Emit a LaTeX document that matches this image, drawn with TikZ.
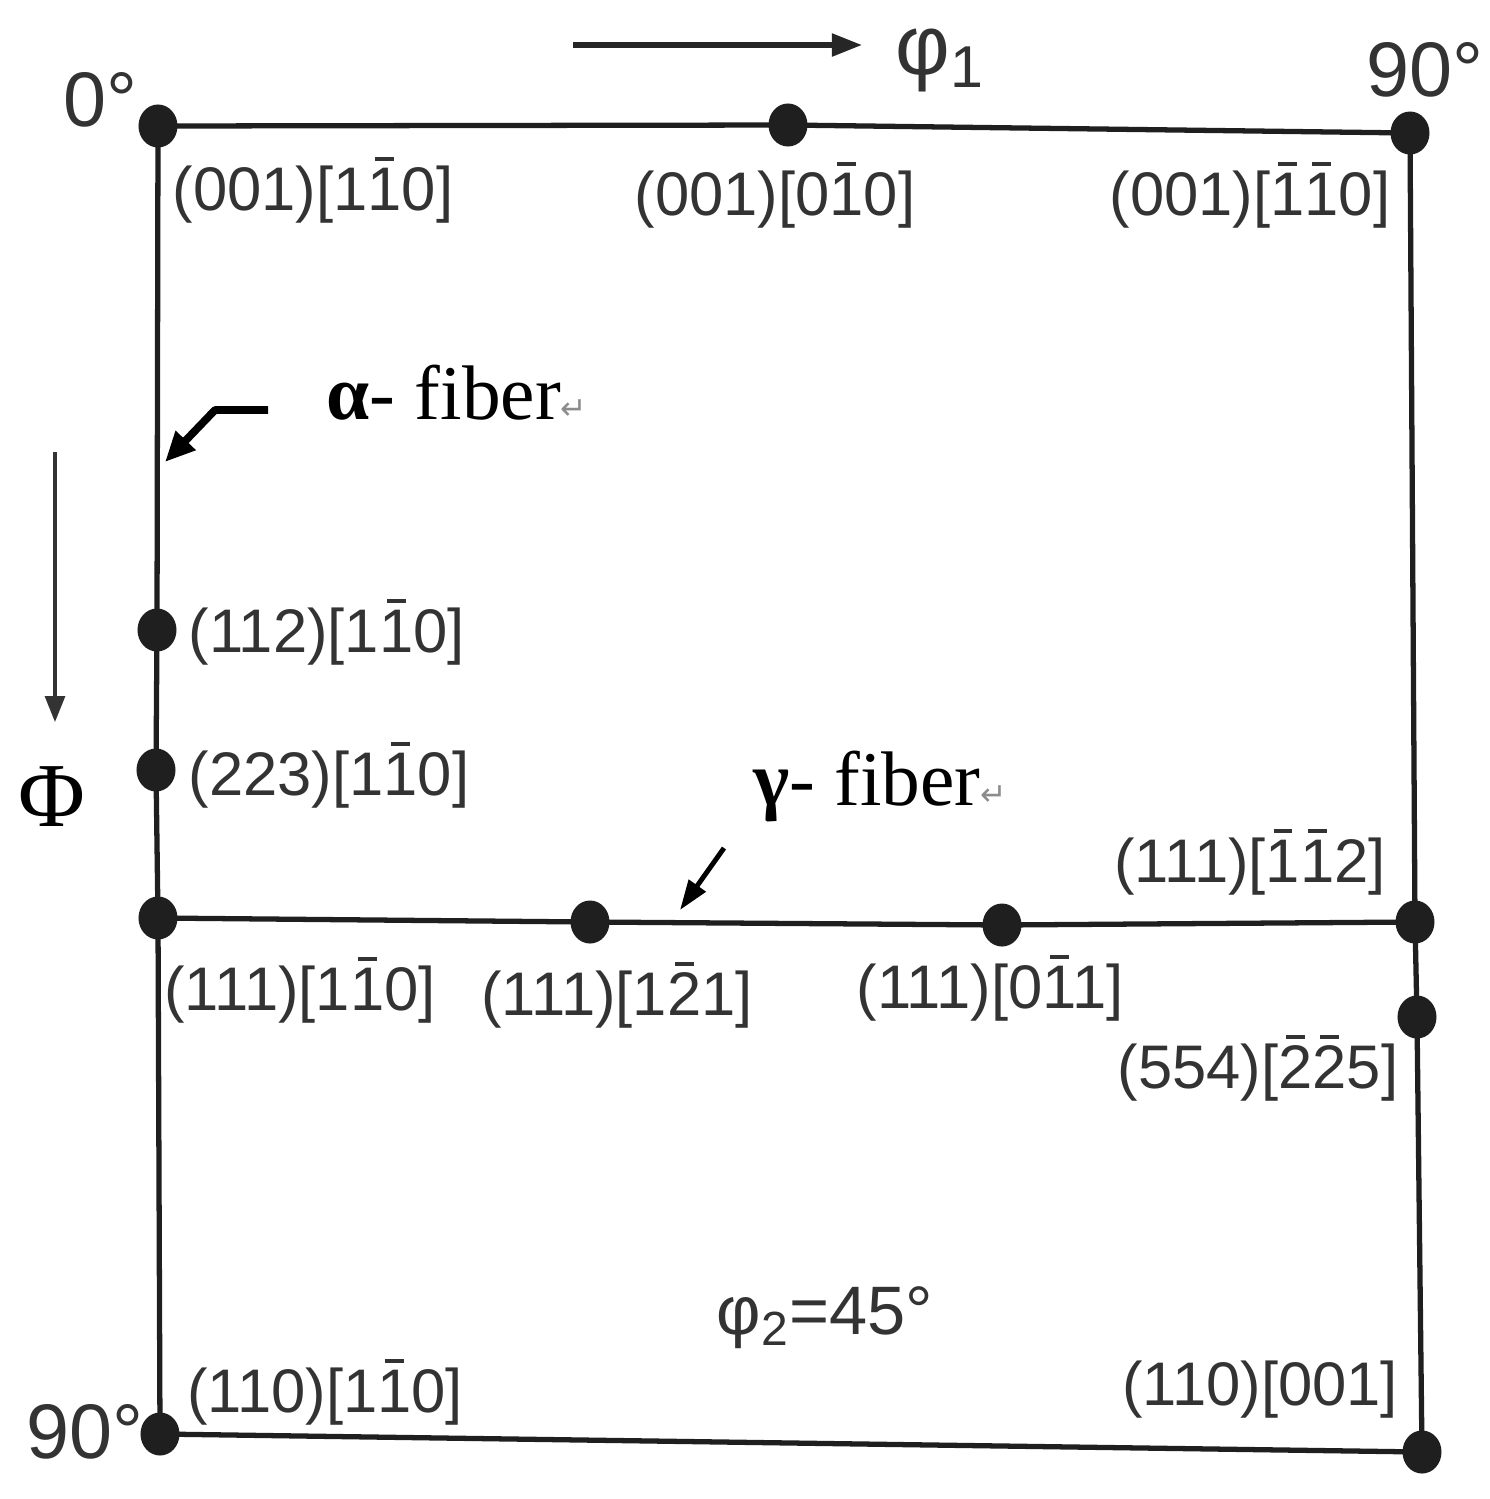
\documentclass[tikz,border=0pt]{standalone}
\usepackage{fontspec}
\setmainfont{Liberation Sans}
\newfontfamily\tmfont{Liberation Serif}
\newfontfamily\symfont{DejaVu Sans}
\usetikzlibrary{arrows.meta, shapes.geometric}
\newcommand{\ob}[1]{{\setbox0\hbox{#1}\rlap{\hbox to\wd0{\hss\rule[0.8em]{0.55\wd0}{0.075em}\hss}}#1}}
\newcommand{\retmark}{{\symfont\fontsize{9}{9}\selectfont\color{black!45}↵}}

\begin{document}
\begin{tikzpicture}[x=0.01cm, y=-0.01cm,
    frame/.style={line width=1.5pt, draw=black!88},
    dot/.style={ellipse, fill=black!88, minimum width=0.39cm, minimum height=0.43cm, inner sep=0pt},
    lbl/.style={text=black!80, inner sep=0pt, font=\fontsize{17.5}{20}\selectfont},
    deg/.style={text=black!80, inner sep=0pt, font=\fontsize{22}{24}\selectfont},
    fib/.style={inner sep=0pt, font=\tmfont\fontsize{22}{24}\selectfont}]
    \useasboundingbox (0,0) rectangle (1490,1499);

    % corner and fibre points
    \node[dot] (tl) at (158,126) {};
    \node[dot] (tm) at (788,125) {};
    \node[dot] (tr) at (1410,133) {};
    \node[dot] (l112) at (157,630) {};
    \node[dot] (l223) at (156,770) {};
    \node[dot] (m1) at (158,918) {};
    \node[dot] (m2) at (590,922) {};
    \node[dot] (m3) at (1002,925) {};
    \node[dot] (mr) at (1415,922) {};
    \node[dot] (r554) at (1417,1017) {};
    \node[dot] (bl) at (160,1434) {};
    \node[dot] (br) at (1422,1452) {};

    % section frame
    \draw[frame] (tl.center) -- (tm.center) -- (tr.center) -- (mr.center) -- (r554.center) -- (br.center) -- (bl.center) -- (m1.center) -- (l223.center) -- (l112.center) -- (tl.center);
    \draw[frame] (m1.center) -- (m2.center) -- (m3.center) -- (mr.center);

    % orientation labels
    \node[lbl] (t001a) at (313,190) {(001)[1\ob{1}0]};
    \node[lbl] (t001b) at (775,195) {(001)[0\ob{1}0]};
    \node[lbl] (t001c) at (1250,195) {(001)[\ob{1}\ob{1}0]};
    \node[lbl, anchor=west] (t112) at (188,632) {(112)[1\ob{1}0]};
    \node[lbl, anchor=west] (t223) at (188,775) {(223)[1\ob{1}0]};
    \node[lbl] (t111a) at (300,990) {(111)[1\ob{1}0]};
    \node[lbl] (t111b) at (617,995) {(111)[1\ob{2}1]};
    \node[lbl] (t111c) at (990,988) {(111)[0\ob{1}1]};
    \node[lbl] (t111d) at (1250,862) {(111)[\ob{1}\ob{1}2]};
    \node[lbl] (t554) at (1258,1068) {(554)[\ob{2}\ob{2}5]};
    \node[lbl] (t110a) at (325,1392) {(110)[1\ob{1}0]};
    \node[lbl] (t110b) at (1260,1390) {(110)[001]};

    % angles
    \node[deg] (d0) at (100,100) {0°};
    \node[deg] (d90a) at (1425,70) {90°};
    \node[deg] (d90b) at (85,1432) {90°};
    \node[deg, font=\fontsize{24}{26}\selectfont] (phi1) at (940,60) {φ\textsubscript{1}};
    \node[lbl, font=\fontsize{19.5}{22}\selectfont] (phi2) at (825,1318) {φ\textsubscript{2}=45°};
    \node[inner sep=0pt, font=\tmfont\fontsize{26}{28}\selectfont] (bigphi) at (52,797) {Φ};

    % fibres
    \node[fib] (afib) at (457,393) {{\bfseries α}- fiber\retmark};
    \node[fib] (gfib) at (880,786) {{\bfseries γ}- fiber\retmark};

    % arrows
    \coordinate (p0) at (573,45);
    \coordinate (p1) at (862,45);
    \draw[line width=1.5pt, draw=black!85, -{Triangle[length=0.3cm,width=0.22cm]}] (p0) -- (p1);
    \coordinate (q0) at (55,452);
    \coordinate (q1) at (55,722);
    \draw[line width=0.9pt, draw=black!80, -{Triangle[length=0.26cm,width=0.2cm]}] (q0) -- (q1);
    \coordinate (a0) at (268,410);
    \coordinate (a1) at (215,410);
    \coordinate (a2) at (165,462);
    \draw[line width=2.2pt, line join=round, -{Triangle[length=0.3cm,width=0.26cm]}] (a0) -- (a1) -- (a2);
    \coordinate (g0) at (724,848);
    \coordinate (g1) at (680,910);
    \draw[line width=1.4pt, -{Triangle[length=0.3cm,width=0.2cm]}] (g0) -- (g1);
\end{tikzpicture}
\end{document}
